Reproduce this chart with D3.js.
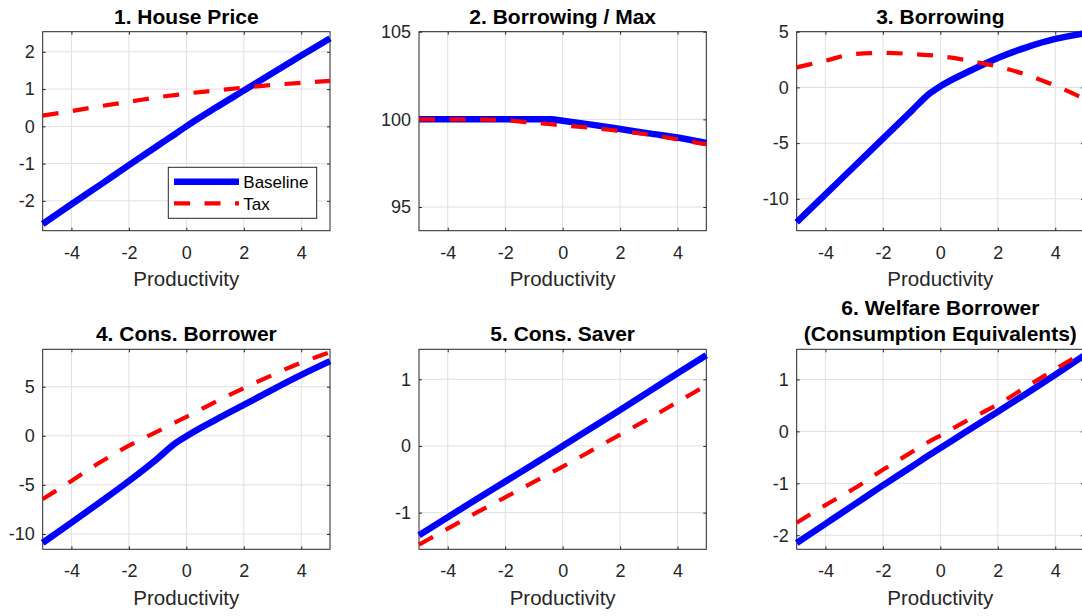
<!DOCTYPE html>
<html><head><meta charset="utf-8">
<script src="https://cdn.jsdelivr.net/npm/d3@7"></script>
<style>
body{margin:0;background:#fff}
svg{display:block}
text{font-family:"Liberation Sans",Arial,Helvetica,sans-serif}
</style></head>
<body><svg id="chart" width="1082" height="616"></svg>
<script>
// ---- data ----
const productivity = [-5, -4, -3, -2, -1, -0.4, 0, 1, 2, 3, 4, 5];
const xTicks = [-4, -2, 0, 2, 4];
const seriesNames = ["Baseline", "Tax"];
const panelTitles = [
  ["1. House Price"],
  ["2. Borrowing / Max"],
  ["3. Borrowing"],
  ["4. Cons. Borrower"],
  ["5. Cons. Saver"],
  ["6. Welfare Borrower", "(Consumption Equivalents)"]
];
const xLabel = "Productivity";

const housePriceBaseline = [-2.62, -2.09, -1.57, -1.04, -0.52, -0.21, 0, 0.49, 0.96, 1.43, 1.90, 2.36];
const housePriceTax      = [0.29, 0.41, 0.54, 0.66, 0.78, 0.84, 0.88, 0.96, 1.04, 1.11, 1.17, 1.22];
const borrowMaxBaseline  = [100, 100, 100, 100, 100, 100, 99.92, 99.70, 99.45, 99.20, 98.97, 98.65];
const borrowMaxTax       = [100, 100, 100, 99.95, 99.80, 99.72, 99.66, 99.52, 99.33, 99.13, 98.86, 98.58];
const borrowingBaseline  = [-12.1, -9.6, -7.1, -4.6, -2.1, -0.6, 0.1, 1.45, 2.65, 3.6, 4.35, 4.85];
const borrowingTax       = [1.8, 2.4, 3.0, 3.1, 3.0, 2.9, 2.8, 2.4, 1.86, 1.14, 0.15, -1.0];
const consBorrowerBaseline = [-10.9, -8.85, -6.75, -4.6, -2.3, -0.8, -0.05, 1.6, 3.15, 4.7, 6.2, 7.6];
const consBorrowerTax      = [-6.45, -4.6, -2.7, -1.0, 0.45, 1.35, 1.93, 3.44, 4.85, 6.2, 7.45, 8.5];
const consSaverBaseline  = [-1.34, -1.07, -0.80, -0.535, -0.27, -0.11, 0, 0.27, 0.54, 0.815, 1.09, 1.36];
const consSaverTax       = [-1.48, -1.24, -1.0, -0.77, -0.54, -0.40, -0.31, -0.07, 0.17, 0.41, 0.66, 0.91];
const welfareBaseline    = [-2.15, -1.78, -1.41, -1.04, -0.68, -0.46, -0.32, 0.03, 0.38, 0.73, 1.09, 1.46];
const welfareTax         = [-1.76, -1.42, -1.10, -0.74, -0.40, -0.20, -0.08, 0.23, 0.52, 0.86, 1.20, 1.52];

const yDomains = [[-2.8, 2.54], [93.65, 105], [-12.86, 5], [-11.56, 8.81], [-1.55, 1.45], [-2.27, 1.58]];
const yTicks = [[-2, -1, 0, 1, 2], [95, 100, 105], [-10, -5, 0, 5], [-10, -5, 0, 5], [-1, 0, 1], [-2, -1, 0, 1]];
const panelSeries = [
  [housePriceBaseline, housePriceTax],
  [borrowMaxBaseline, borrowMaxTax],
  [borrowingBaseline, borrowingTax],
  [consBorrowerBaseline, consBorrowerTax],
  [consSaverBaseline, consSaverTax],
  [welfareBaseline, welfareTax]
];

// ---- layout / style ----
const colX = [42.7, 419, 796.7], W = 287.3;
const rows = [{y: 31.7, h: 199}, {y: 349.3, h: 200}];
const axisColor = "#262626", gridColor = "#dfdfdf";
const tickFont = 18;

const svg = d3.select("#chart");
const fmt = d => String(d);

panelSeries.forEach((series, i) => {
  const x0 = colX[i % 3], r = rows[Math.floor(i / 3)];
  const y0 = r.y, h = r.h;
  const x = d3.scaleLinear().domain([-5, 5]).range([x0, x0 + W]);
  const y = d3.scaleLinear().domain(yDomains[i]).range([y0 + h, y0]);
  const g = svg.append("g");

  // grid
  g.append("g").selectAll("line").data(xTicks).join("line")
    .attr("x1", d => x(d)).attr("x2", d => x(d)).attr("y1", y0).attr("y2", y0 + h)
    .attr("stroke", gridColor).attr("stroke-width", 1);
  g.append("g").selectAll("line").data(yTicks[i]).join("line")
    .attr("y1", d => y(d)).attr("y2", d => y(d)).attr("x1", x0).attr("x2", x0 + W)
    .attr("stroke", gridColor).attr("stroke-width", 1);

  // axes
  const styleAxis = sel => {
    sel.select(".domain").remove();
    sel.selectAll(".tick line").attr("stroke", axisColor);
    sel.selectAll(".tick text").attr("fill", axisColor).style("font-size", tickFont + "px")
       .style("font-family", '"Liberation Sans",Arial,sans-serif');
  };
  g.append("g").attr("transform", `translate(0,${y0 + h})`)
    .call(d3.axisBottom(x).tickValues(xTicks).tickSize(-3).tickPadding(15.3).tickFormat(fmt)).call(styleAxis);
  g.append("g").attr("transform", `translate(0,${y0})`)
    .call(d3.axisTop(x).tickValues(xTicks).tickSize(-3).tickFormat("")).call(styleAxis);
  g.append("g").attr("transform", `translate(${x0},0)`)
    .call(d3.axisLeft(y).tickValues(yTicks[i]).tickSize(-3).tickPadding(8).tickFormat(fmt)).call(styleAxis);
  g.append("g").attr("transform", `translate(${x0 + W},0)`)
    .call(d3.axisRight(y).tickValues(yTicks[i]).tickSize(-3).tickFormat("")).call(styleAxis);

  g.append("rect").attr("x", x0).attr("y", y0).attr("width", W).attr("height", h)
    .attr("fill", "none").attr("stroke", axisColor).attr("stroke-width", 1);

  // lines
  const line = d3.line().x((d, j) => x(productivity[j])).y(d => y(d)).curve(d3.curveMonotoneX);
  g.append("path").datum(series[0]).attr("d", line)
    .attr("fill", "none").attr("stroke", "#0000ff").attr("stroke-width", 6.5)
    .attr("stroke-linejoin", "round");
  g.append("path").datum(series[1]).attr("d", line)
    .attr("fill", "none").attr("stroke", "#ff0000").attr("stroke-width", 4.2)
    .attr("stroke-dasharray", "16,14.5").attr("stroke-linejoin", "round");

  // title
  const t = panelTitles[i];
  t.forEach((s, k) => {
    g.append("text").attr("x", x0 + W / 2).attr("y", y0 - 8 - (t.length - 1 - k) * 26.5)
      .attr("text-anchor", "middle").attr("font-weight", "bold").attr("font-size", 21)
      .attr("fill", "#000").text(s);
  });
  // x label
  g.append("text").attr("x", x0 + W / 2).attr("y", y0 + h + 55.5)
    .attr("text-anchor", "middle").attr("font-size", 20.5).attr("fill", axisColor).text(xLabel);

  // legend (first panel)
  if (i === 0) {
    const lg = g.append("g");
    lg.append("rect").attr("x", 168.3).attr("y", 167.3).attr("width", 148.4).attr("height", 51)
      .attr("fill", "#fff").attr("stroke", axisColor).attr("stroke-width", 1);
    const rowsL = [{c: "#0000ff", w: 6.5, dash: null, yy: 181.7}, {c: "#ff0000", w: 4.2, dash: "16,14.5", yy: 203.3}];
    rowsL.forEach((e, k) => {
      lg.append("line").attr("x1", 174).attr("x2", 239).attr("y1", e.yy).attr("y2", e.yy)
        .attr("stroke", e.c).attr("stroke-width", e.w).attr("stroke-dasharray", e.dash);
      lg.append("text").attr("x", 243.3).attr("y", e.yy + 6.4).attr("font-size", 17)
        .attr("fill", "#000").text(seriesNames[k]);
    });
  }
});
</script></body></html>
